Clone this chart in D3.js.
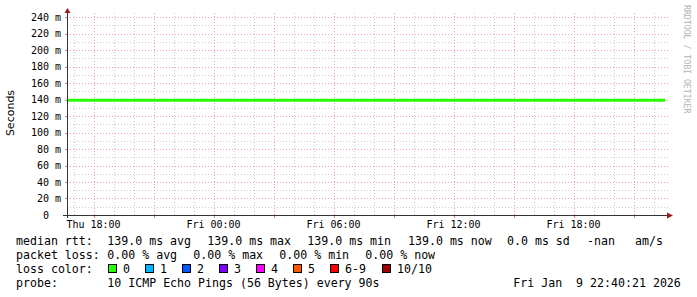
<!DOCTYPE html>
<html>
<head>
<meta charset="utf-8">
<script src="https://cdn.jsdelivr.net/npm/d3@7"></script>
<style>
  html, body { margin: 0; padding: 0; background: #fff; }
  text { white-space: pre; }
</style>
</head>
<body>
<svg id="main_canvas"></svg>
<script>
const width = 697;
const height = 297;

// time window shown (UTC used so labels do not depend on local zone)
const startTime = new Date(Date.UTC(2026, 0, 8, 16, 40, 21));
const endTime = new Date(Date.UTC(2026, 0, 9, 22, 40, 21));

// median rtt samples, ms
const sampleTimes = [
  "2026-01-08T16:40:21Z", "2026-01-08T20:00:00Z", "2026-01-09T00:00:00Z",
  "2026-01-09T04:00:00Z", "2026-01-09T08:00:00Z", "2026-01-09T12:00:00Z",
  "2026-01-09T16:00:00Z", "2026-01-09T20:00:00Z", "2026-01-09T22:35:00Z",
];
const medianRtt = [139.0, 139.0, 139.0, 139.0, 139.0, 139.0, 139.0, 139.0, 139.0];

const yTicks = [0, 20, 40, 60, 80, 100, 120, 140, 160, 180, 200, 220, 240];

const lossLabels = ["0", "1", "2", "3", "4", "5", "6-9", "10/10"];
const lossColors = ["#26ff00", "#00b8ff", "#0059ff", "#7e00ff", "#ff00ff", "#ff5500", "#ff0000", "#a10000"];

const rttLine = ["median rtt:", "139.0 ms avg", "139.0 ms max", "139.0 ms min", "139.0 ms now", "0.0 ms sd", "-nan", "am/s"];
const lossLine = ["packet loss:", "0.00 % avg", "0.00 % max", "0.00 % min", "0.00 % now"];
const probeLine = ["probe:", "10 ICMP Echo Pings (56 Bytes) every 90s", "Fri Jan  9 22:40:21 2026"];

const margin = { left: 67, right: 30, top: 13, bottom: 82 };
const plotRight = width - margin.right;
const plotBottom = height - margin.bottom;

const svg = d3.select("#main_canvas")
  .attr("width", width)
  .attr("height", height)
  .style("display", "block");

svg.append("rect").attr("width", width).attr("height", height).attr("fill", "#fff");

const x = d3.scaleUtc().domain([startTime, endTime]).range([margin.left, plotRight]);
const y = d3.scaleLinear().domain([0, 240]).range([plotBottom, 17]);

const mono = "'DejaVu Sans Mono', monospace";
const px = v => Math.round(v) + 0.5;

const hours = x.ticks(d3.utcHour.every(1));
const majorHours = hours.filter(d => d.getUTCHours() % 3 === 0);
const minorHours = hours.filter(d => d.getUTCHours() % 3 !== 0);
const minorY = d3.range(10, 250, 20);

// grid, drawn as plain dotted paths
const grid = svg.append("g").attr("fill", "none").attr("shape-rendering", "crispEdges")
  .attr("stroke-dasharray", "1,2");

grid.append("path").attr("stroke", "#cccccc")
  .attr("d", minorY.map(v => `M${margin.left},${px(y(v))}H${plotRight + 1}`).join("")
    + minorHours.map(t => `M${px(x(t))},${margin.top}V${plotBottom}`).join(""));

grid.append("path").attr("stroke", "#f0a0a0")
  .attr("d", yTicks.slice(1).map(v => `M${margin.left},${px(y(v))}H${plotRight + 1}`).join("")
    + majorHours.map(t => `M${px(x(t))},${margin.top}V${plotBottom}`).join(""));

// small ticks outside the plot at major lines
svg.append("path").attr("fill", "none").attr("stroke", "#e08080").attr("shape-rendering", "crispEdges")
  .attr("d", yTicks.slice(1).map(v => `M${margin.left - 2},${px(y(v))}H${margin.left}`).join("")
    + majorHours.map(t => `M${px(x(t))},${plotBottom + 1}V${plotBottom + 3}`).join(""));

// rtt line
const series = sampleTimes.map((t, i) => ({ t: new Date(t), v: medianRtt[i] }));
svg.append("path")
  .datum(series)
  .attr("fill", "none")
  .attr("stroke", lossColors[0])
  .attr("stroke-width", 3)
  .attr("d", d3.line().x(d => x(d.t)).y(d => y(d.v)));

// axes
const axes = svg.append("g").attr("shape-rendering", "crispEdges").attr("stroke", "#333");
axes.append("line").attr("x1", margin.left + 0.5).attr("x2", margin.left + 0.5)
  .attr("y1", margin.top - 1).attr("y2", plotBottom + 3);
axes.append("line").attr("x1", margin.left - 4).attr("x2", plotRight + 3)
  .attr("y1", plotBottom + 0.5).attr("y2", plotBottom + 0.5);

svg.append("polygon").attr("fill", "#a01818")
  .attr("points", [[margin.left - 2.5, margin.top], [margin.left + 0.5, margin.top - 5], [margin.left + 3.5, margin.top]].join(" "));
svg.append("polygon").attr("fill", "#a01818")
  .attr("points", [[plotRight, plotBottom - 2.5], [plotRight + 6, plotBottom + 0.5], [plotRight, plotBottom + 3.5]].join(" "));

// y labels
svg.append("g").selectAll("text").data(yTicks).join("text")
  .attr("x", 61).attr("y", d => y(d) + 3.5)
  .attr("text-anchor", "end")
  .attr("font-family", mono).attr("font-size", 10).attr("fill", "#000")
  .text(d => d === 0 ? "0  " : d + " m");

// x labels
const labelTimes = hours.filter(d => d.getUTCHours() % 6 === 0);
svg.append("g").selectAll("text").data(labelTimes).join("text")
  .attr("x", d => x(d)).attr("y", 228)
  .attr("text-anchor", "middle")
  .attr("font-family", mono).attr("font-size", 10).attr("fill", "#000")
  .text(d => d3.utcFormat("%a %H:%M")(d));

// axis title
svg.append("text")
  .attr("transform", "translate(14,113) rotate(-90)")
  .attr("text-anchor", "middle")
  .attr("font-family", "'DejaVu Sans', sans-serif").attr("font-size", 11).attr("fill", "#000")
  .text("Seconds");

// watermark
svg.append("text")
  .attr("transform", "translate(684,5) rotate(90)")
  .attr("font-family", mono).attr("font-size", 8.2).attr("fill", "#b4b4b4")
  .text("RRDTOOL / TOBI OETIKER");

// legend
const legend = svg.append("g").attr("font-family", mono).attr("font-size", 11.6).attr("fill", "#000");

function legendRow(parts, xs, baseline) {
  legend.append("g").selectAll("text").data(parts).join("text")
    .attr("x", (d, i) => xs[i]).attr("y", baseline)
    .text(d => d);
}

legendRow(rttLine, [16, 107.3, 207.3, 307.3, 408, 507, 587, 635], 245);
legendRow(lossLine, [16, 107.3, 193.3, 279.3, 365.3], 259);
legendRow(["loss color:"], [16], 273);
legendRow(probeLine, [16, 107.3, 513.3], 287);

const boxX = [108, 145, 182, 219, 256, 293, 330, 382];
const swatches = legend.append("g");
swatches.selectAll("rect").data(lossColors).join("rect")
  .attr("x", (d, i) => boxX[i] + 0.5).attr("y", 264.5)
  .attr("width", 8).attr("height", 8)
  .attr("fill", d => d).attr("stroke", "#000").attr("stroke-width", 1)
  .attr("shape-rendering", "crispEdges");
swatches.selectAll("text").data(lossLabels).join("text")
  .attr("x", (d, i) => boxX[i] + 15).attr("y", 273)
  .text(d => d);
</script>
</body>
</html>
